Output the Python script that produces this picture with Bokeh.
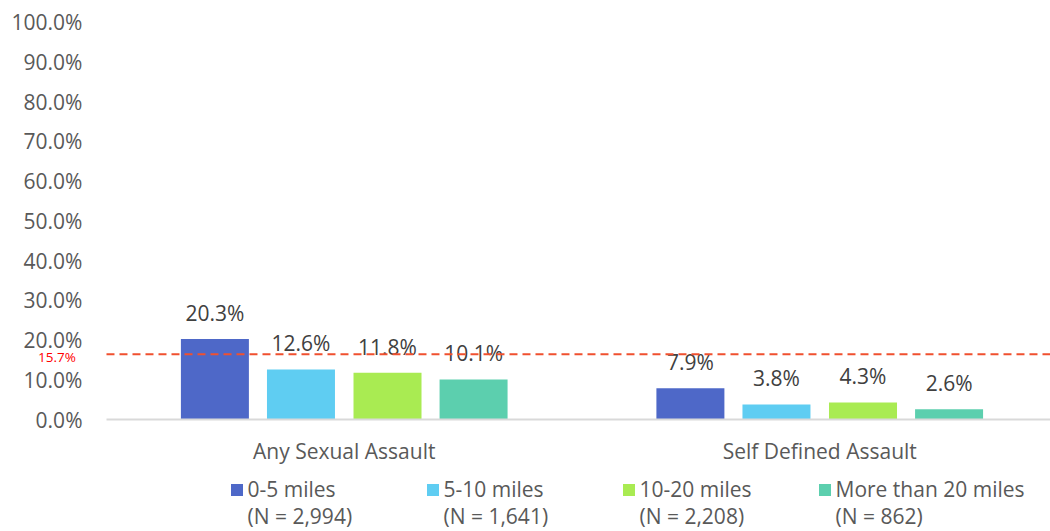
from bokeh.plotting import figure
from bokeh.models import (ColumnDataSource, Range1d, FixedTicker, PrintfTickFormatter,
                          Label, Legend, LegendItem)
from bokeh.embed import file_html
from bokeh.resources import INLINE

# ---- data ----
categories = ["Any Sexual Assault", "Self Defined Assault"]
series_names = ["0-5 miles", "5-10 miles", "10-20 miles", "More than 20 miles"]
series_n = ["(N = 2,994)", "(N = 1,641)", "(N = 2,208)", "(N = 862)"]
vals_0_5 = [20.3, 7.9]
vals_5_10 = [12.6, 3.8]
vals_10_20 = [11.8, 4.3]
vals_20_plus = [10.1, 2.6]
avg_value = 15.7
avg_line_level = 16.4
y_ticks = [0, 10, 20, 30, 40, 50, 60, 70, 80, 90, 100]

series_values = [vals_0_5, vals_5_10, vals_10_20, vals_20_plus]
colors = ["#4e68c8", "#5fcdf2", "#a9eb52", "#5ccfae"]
offsets = [-0.272, -0.091, 0.091, 0.272]
bar_w = 0.143
FONT = "Open Sans"
FS = "21px"

X_START, X_END = -0.2229, 1.9853
Y_START, Y_END = -28.2, 105.5

p = figure(width=1050, height=531, output_backend="svg", toolbar_location=None, tools="",
           x_range=Range1d(X_START, X_END), y_range=Range1d(Y_START, Y_END),
           min_border_left=0, min_border_right=0, min_border_top=0, min_border_bottom=0)
p.outline_line_color = None
p.xgrid.visible = False
p.ygrid.visible = False
p.background_fill_color = "white"

# bars
bar_renderers = []
dummy_renderers = []
for i, vals in enumerate(series_values):
    xs = [c + 0.5 + offsets[i] for c in range(len(categories))]
    src = ColumnDataSource(dict(x=xs, top=vals, lab=["%.1f%%" % v for v in vals]))
    r = p.vbar(x="x", top="top", width=bar_w, source=src, fill_color=colors[i], line_color=None)
    bar_renderers.append(r)
    d = p.vbar(x="x", top="top", width=bar_w, source=src, fill_alpha=0, line_alpha=0)
    dummy_renderers.append(d)
    p.text(x="x", y="top", text="lab", source=src, text_align="center", text_baseline="alphabetic",
           y_offset=-26, text_font_size=FS, text_color="#404040", text_font={"value": FONT})

# average line across the plotting area
p.segment(x0=[0], y0=[avg_line_level], x1=[X_END], y1=[avg_line_level],
          line_color="#f0502f", line_dash="8 5", line_width=2)
p.add_layout(Label(x=-0.104, y=avg_value, text="%.1f%%" % avg_value, text_align="center",
                   text_baseline="middle", text_color="#ff0000", text_font_size="13.5px",
                   text_font=FONT))

# y axis
ya = p.yaxis[0]
ya.fixed_location = 0
ya.bounds = (0, 100)
ya.ticker = FixedTicker(ticks=y_ticks)
ya.formatter = PrintfTickFormatter(format="%.1f%%")
ya.axis_line_color = None
ya.major_tick_line_color = None
ya.minor_tick_line_color = None
ya.major_label_standoff = 18
ya.major_label_text_font_size = FS
ya.major_label_text_color = "#595959"
ya.major_label_text_font = FONT

# x axis
xa = p.xaxis[0]
xa.fixed_location = 0
xa.bounds = (0, X_END)
xa.ticker = FixedTicker(ticks=[i + 0.5 for i in range(len(categories))])
xa.major_label_overrides = {i + 0.5: c for i, c in enumerate(categories)}
xa.axis_line_color = "#d9d9d9"
xa.axis_line_width = 2
xa.major_tick_line_color = None
xa.minor_tick_line_color = None
xa.major_label_standoff = 11
xa.major_label_text_font_size = FS
xa.major_label_text_color = "#595959"
xa.major_label_text_font = FONT

# legends (two rows)
def make_legend(items, loc):
    return Legend(items=items, orientation="horizontal", location=loc,
                  glyph_width=15, glyph_height=15, label_standoff=4, label_width=160, spacing=17,
                  padding=0, margin=0, border_line_color=None, background_fill_alpha=0,
                  label_text_font_size=FS, label_text_color="#595959", label_text_font=FONT)

leg1 = make_legend([LegendItem(label=n, renderers=[r]) for n, r in zip(series_names, bar_renderers)],
                   (228.5, 28))
leg2 = make_legend([LegendItem(label=n, renderers=[r]) for n, r in zip(series_n, dummy_renderers)],
                   (228.5, 1))
p.add_layout(leg1)
p.add_layout(leg2)

open("out.html", "w").write(file_html(p, INLINE))
